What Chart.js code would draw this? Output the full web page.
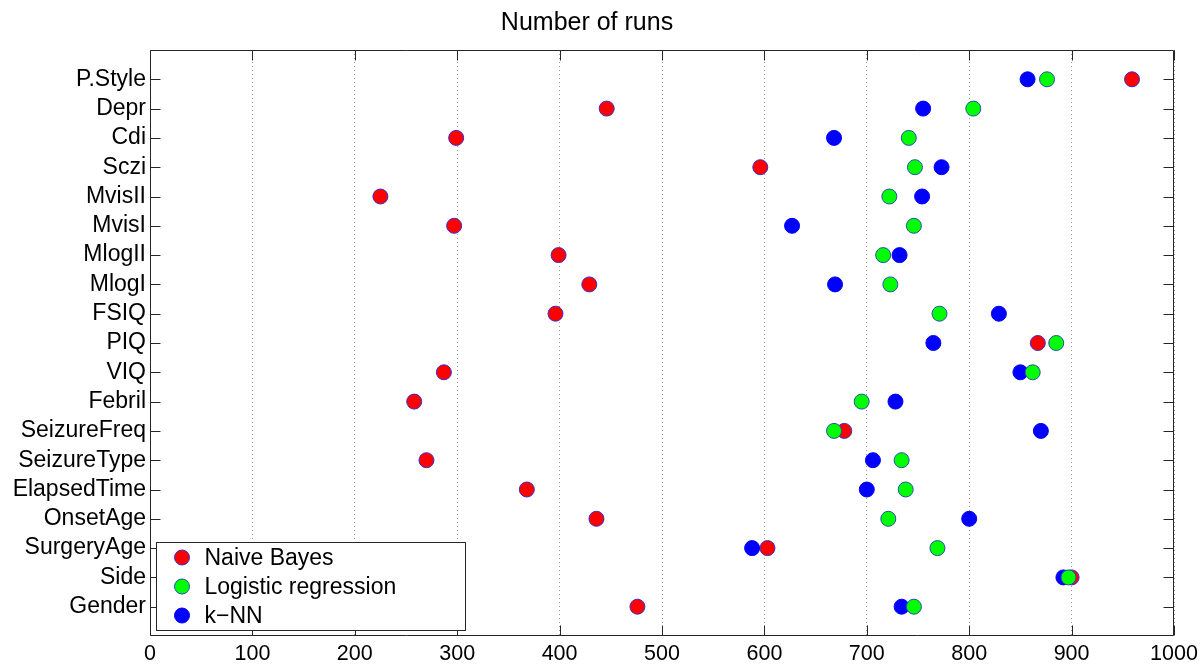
<!DOCTYPE html>
<html>
<head>
<meta charset="utf-8">
<script src="https://cdn.jsdelivr.net/npm/chart.js@4/dist/chart.umd.min.js"></script>
<style>
  html, body { margin: 0; padding: 0; background: #ffffff; }
  #wrap { width: 1204px; height: 668px; position: relative; }
</style>
</head>
<body>
<div id="wrap"><canvas id="c"></canvas></div>
<script>
// Categories, listed top to bottom as in the figure
const categories = ["P.Style", "Depr", "Cdi", "Sczi", "MvisII", "MvisI", "MlogII", "MlogI",
  "FSIQ", "PIQ", "VIQ", "Febril", "SeizureFreq", "SeizureType", "ElapsedTime",
  "OnsetAge", "SurgeryAge", "Side", "Gender"];

const naiveBayes = [959, 446, 299, 596, 225, 297, 399, 429, 396, 867, 287, 258, 678, 270, 368, 436, 603, 900, 476];
const logisticRegression = [876, 804, 741, 747, 722, 746, 716, 723, 771, 885, 862, 695, 668, 734, 738, 721, 769, 897, 746];
const kNN = [857, 755, 668, 773, 754, 627, 732, 669, 829, 765, 850, 728, 870, 706, 700, 800, 588, 892, 734];

const seriesNames = ["Naive Bayes", "Logistic regression", "k\u2212NN"];
const xTicks = [0, 100, 200, 300, 400, 500, 600, 700, 800, 900, 1000];
const titleText = "Number of runs";

const N = categories.length;
const toPoints = arr => arr.map((v, i) => ({ x: v, y: N - i }));

const FONT = "'Liberation Sans', Arial, Helvetica, sans-serif";
Chart.defaults.font.family = FONT;
Chart.defaults.color = "#000000";

const frameAndLegend = {
  id: "frameAndLegend",
  afterDraw(chart) {
    const ctx = chart.ctx;
    const a = chart.chartArea;
    const xs = chart.scales.x, ys = chart.scales.y;
    ctx.save();
    ctx.strokeStyle = "#262626";
    ctx.lineWidth = 1;
    ctx.beginPath();
    const L = Math.round(a.left) + 0.5, R = Math.round(a.right) - 0.5;
    const T = Math.round(a.top) + 0.5, B = Math.round(a.bottom) - 0.5;
    ctx.rect(L, T, R - L, B - T);
    const tl = 10;
    xs.ticks.forEach(t => {
      const px = Math.round(xs.getPixelForValue(t.value)) + 0.5;
      ctx.moveTo(px, T); ctx.lineTo(px, T + tl);
      ctx.moveTo(px, B); ctx.lineTo(px, B - tl);
    });
    ys.ticks.forEach(t => {
      const py = Math.round(ys.getPixelForValue(t.value)) + 0.5;
      ctx.moveTo(L, py); ctx.lineTo(L + tl, py);
      ctx.moveTo(R, py); ctx.lineTo(R - tl, py);
    });
    ctx.stroke();

    // legend box (inside, lower left)
    const bx = a.left + 6.5, bw = 309, bh = 88;
    const by = a.bottom - 5.5 - bh;
    ctx.fillStyle = "#ffffff";
    ctx.fillRect(bx, by, bw, bh);
    ctx.strokeStyle = "#262626";
    ctx.strokeRect(bx, by, bw, bh);
    ctx.font = "23px " + FONT;
    ctx.textBaseline = "middle";
    ctx.textAlign = "left";
    chart.data.datasets.forEach((ds, i) => {
      const cy = by + 15 + i * 29;
      const cx = bx + 25.5;
      ctx.beginPath();
      ctx.arc(cx, cy, 7.5, 0, Math.PI * 2);
      ctx.fillStyle = ds.backgroundColor;
      ctx.fill();
      ctx.lineWidth = 1;
      ctx.strokeStyle = ds.borderColor;
      ctx.stroke();
      ctx.fillStyle = "#000000";
      ctx.fillText(ds.label, bx + 48, cy + 1);
    });
    ctx.restore();
  }
};

new Chart(document.getElementById("c"), {
  type: "scatter",
  data: {
    datasets: [
      { label: seriesNames[0], data: toPoints(naiveBayes), backgroundColor: "#ff0000", borderColor: "#3a2cc8", borderWidth: 1, pointRadius: 7.5, pointHoverRadius: 7.5, order: 3 },
      { label: seriesNames[1], data: toPoints(logisticRegression), backgroundColor: "#00ff00", borderColor: "#2a4cb0", borderWidth: 1, pointRadius: 7.5, pointHoverRadius: 7.5, order: 1 },
      { label: seriesNames[2], data: toPoints(kNN), backgroundColor: "#0000ff", borderColor: "#0000ff", borderWidth: 1, pointRadius: 7.5, pointHoverRadius: 7.5, order: 2 }
    ]
  },
  options: {
    responsive: true,
    maintainAspectRatio: false,
    animation: false,
    events: [],
    layout: { padding: { left: 0, right: 30, top: 0, bottom: 0 } },
    plugins: {
      legend: { display: false },
      tooltip: { enabled: false },
      title: {
        display: true,
        text: titleText,
        color: "#000000",
        font: { size: 25, weight: "normal", family: FONT },
        padding: { top: 8, bottom: 12 }
      }
    },
    scales: {
      x: {
        type: "linear",
        min: 0,
        max: 1000,
        afterBuildTicks: s => { s.ticks = xTicks.map(v => ({ value: v })); },
        afterFit: s => { s.height = 32; },
        ticks: { font: { size: 21.5, family: FONT }, color: "#000000", padding: 5, maxRotation: 0,
          callback: v => String(v) },
        grid: { display: true, color: "#9a9a9a", lineWidth: 1, drawTicks: false },
        border: { display: false, dash: [1, 3] }
      },
      y: {
        type: "linear",
        min: 0,
        max: N + 1,
        afterBuildTicks: s => { s.ticks = categories.map((c, i) => ({ value: N - i })); },
        afterFit: s => { s.width = 150; },
        ticks: {
          font: { size: 23, family: FONT },
          color: "#000000",
          padding: 4,
          callback: v => categories[N - v]
        },
        grid: { display: false, drawTicks: false },
        border: { display: false }
      }
    }
  },
  plugins: [frameAndLegend]
});
</script>
</body>
</html>
